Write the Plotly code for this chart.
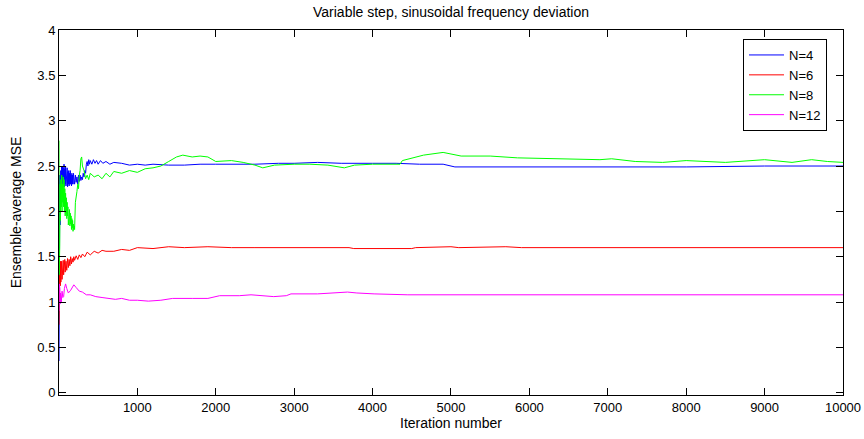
import plotly.graph_objects as go

# ---- data (iteration number, ensemble-average MSE) ----
iters_n4 = [1, 3, 5, 8, 10, 12, 15, 18, 20, 23, 25, 28, 30, 33, 35, 38, 40, 45, 50, 55, 60, 65,
            70, 75, 80, 85, 90, 95, 100, 105, 110, 115, 120, 125, 130, 135, 140, 145, 150, 155,
            160, 165, 170, 175, 180, 185, 190, 195, 200, 210, 220, 230, 240, 250, 260, 270, 280,
            290, 300, 310, 320, 330, 340, 350, 360, 370, 380, 390, 400, 420, 440, 460, 480, 500,
            530, 560, 600, 650, 700, 800, 900, 1000, 1100, 1200, 1400, 1600, 1800, 2000, 2200,
            2500, 2800, 3000, 3300, 3600, 4000, 4300, 4600, 4900, 5050, 6000, 7000, 8000, 9000, 10000]
mse_n4 = [0.35, 2.35, 1.8, 2.3, 2.0, 2.4, 1.85, 2.3, 2.1, 2.45, 2.2, 2.4, 2.25, 2.5, 2.3, 2.45,
          2.25, 2.5, 2.28, 2.48, 2.3, 2.52, 2.27, 2.47, 2.3, 2.5, 2.28, 2.45, 2.3, 2.48, 2.27,
          2.44, 2.3, 2.45, 2.28, 2.42, 2.3, 2.45, 2.3, 2.4, 2.28, 2.42, 2.3, 2.4, 2.3, 2.42, 2.32,
          2.4, 2.3, 2.4, 2.32, 2.38, 2.3, 2.4, 2.33, 2.4, 2.34, 2.38, 2.35, 2.42, 2.38, 2.45, 2.42,
          2.52, 2.55, 2.5, 2.57, 2.52, 2.56, 2.52, 2.57, 2.53, 2.56, 2.52, 2.56, 2.53, 2.55, 2.52,
          2.54, 2.53, 2.51, 2.52, 2.51, 2.52, 2.51, 2.51, 2.52, 2.52, 2.52, 2.52, 2.53, 2.53,
          2.54, 2.53, 2.53, 2.53, 2.52, 2.52, 2.49, 2.49, 2.49, 2.49, 2.5, 2.5]

iters_n6 = [1, 2, 4, 6, 8, 10, 13, 16, 19, 22, 25, 28, 31, 35, 40, 45, 50, 55, 60, 65, 70, 75,
            80, 90, 100, 110, 120, 130, 140, 150, 160, 170, 180, 190, 200, 220, 240, 260, 280,
            300, 330, 360, 400, 450, 500, 550, 600, 700, 800, 900, 1000, 1200, 1400, 1600, 1900,
            2200, 2500, 3000, 3700, 3760, 4500, 4550, 5000, 5100, 5700, 5900, 7000, 8000, 9000, 10000]
mse_n6 = [0.75, 1.45, 1.1, 1.4, 1.15, 1.45, 1.2, 1.42, 1.18, 1.45, 1.22, 1.4, 1.25, 1.45, 1.25,
          1.42, 1.28, 1.46, 1.3, 1.45, 1.32, 1.47, 1.33, 1.45, 1.35, 1.48, 1.38, 1.47, 1.4, 1.5,
          1.42, 1.48, 1.44, 1.5, 1.46, 1.51, 1.47, 1.52, 1.49, 1.53, 1.5, 1.55, 1.52, 1.56, 1.54,
          1.57, 1.56, 1.56, 1.58, 1.57, 1.6, 1.59, 1.61, 1.6, 1.61, 1.6, 1.6, 1.6, 1.6, 1.59, 1.59,
          1.6, 1.61, 1.6, 1.61, 1.6, 1.6, 1.6, 1.6, 1.6]

iters_n8 = [1, 3, 6, 10, 15, 20, 25, 30, 35, 40, 45, 50, 55, 60, 65, 70, 75, 80, 85, 90, 95, 100,
            105, 110, 115, 120, 125, 130, 135, 140, 145, 150, 155, 160, 165, 170, 175, 180, 185,
            190, 195, 200, 210, 220, 230, 240, 250, 260, 270, 280, 290, 300, 320, 340, 360, 380,
            400, 450, 500, 550, 600, 650, 700, 800, 900, 1000, 1100, 1200, 1300, 1400, 1500,
            1580, 1700, 1800, 1900, 2000, 2200, 2350, 2500, 2600, 2750, 3000, 3200, 3430, 3640,
            3770, 4000, 4350, 4380, 4650, 4900, 5130, 5500, 5850, 6300, 6900, 7050, 7350, 7700,
            8000, 8500, 9000, 9350, 9600, 9800, 10000]
mse_n8 = [2.78, 1.3, 2.5, 1.6, 2.3, 1.9, 2.35, 2.05, 2.4, 2.0, 2.3, 2.1, 2.38, 2.05, 2.35, 2.0,
          2.25, 1.95, 2.2, 1.98, 2.15, 1.92, 2.1, 1.95, 2.05, 1.85, 2.0, 1.88, 2.02, 1.84, 1.98,
          1.86, 1.95, 1.8, 1.92, 1.82, 1.9, 1.78, 1.86, 1.8, 1.84, 1.8, 2.1, 2.15, 2.22, 2.3,
          2.25, 2.4, 2.45, 2.58, 2.6, 2.5, 2.45, 2.36, 2.4, 2.35, 2.42, 2.38, 2.4, 2.36, 2.42,
          2.38, 2.44, 2.42, 2.45, 2.43, 2.47, 2.48, 2.5, 2.55, 2.6, 2.62, 2.6, 2.61, 2.6, 2.55,
          2.56, 2.54, 2.51, 2.48, 2.51, 2.52, 2.52, 2.51, 2.48, 2.51, 2.52, 2.52, 2.56, 2.62,
          2.65, 2.61, 2.61, 2.59, 2.58, 2.57, 2.58, 2.55, 2.54, 2.56, 2.54, 2.57, 2.54, 2.57,
          2.55, 2.54]

iters_n12 = [1, 4, 8, 12, 16, 20, 30, 40, 50, 60, 70, 85, 100, 120, 150, 190, 220, 260, 300, 350,
             400, 470, 550, 650, 720, 800, 900, 1000, 1140, 1300, 1450, 1700, 1900, 2050, 2300,
             2450, 2740, 2900, 2960, 3300, 3680, 3800, 4020, 4450, 5000, 6000, 7000, 8000, 9000, 10000]
mse_n12 = [0.9, 1.2, 0.95, 1.15, 0.98, 1.1, 1.0, 1.12, 1.05, 1.06, 1.15, 1.2, 1.15, 1.1, 1.13,
           1.19, 1.16, 1.12, 1.11, 1.08, 1.08, 1.06, 1.05, 1.04, 1.03, 1.04, 1.02, 1.02, 1.01,
           1.02, 1.04, 1.04, 1.04, 1.07, 1.07, 1.08, 1.06, 1.07, 1.09, 1.09, 1.11, 1.1, 1.09,
           1.08, 1.08, 1.08, 1.08, 1.08, 1.08, 1.08]

series_names = ["N=4", "N=6", "N=8", "N=12"]
series_colors = ["#0000ff", "#ff0000", "#00ff00", "#ff00ff"]
x_ticks = [1000, 2000, 3000, 4000, 5000, 6000, 7000, 8000, 9000, 10000]
x_tick_labels = ["1000", "2000", "3000", "4000", "5000", "6000", "7000", "8000", "9000", "10000"]
y_ticks = [0, 0.5, 1, 1.5, 2, 2.5, 3, 3.5, 4]
y_tick_labels = ["0", "0.5", "1", "1.5", "2", "2.5", "3", "3.5", "4"]

FONT = "Liberation Sans, Arial, sans-serif"

fig = go.Figure()
for xs, ys, name, col in zip([iters_n4, iters_n6, iters_n8, iters_n12],
                             [mse_n4, mse_n6, mse_n8, mse_n12],
                             series_names, series_colors):
    fig.add_trace(go.Scatter(x=xs, y=ys, mode="lines", name=name,
                             line=dict(color=col, width=1)))

fig.update_layout(
    width=864, height=439,
    margin=dict(l=59, r=21, t=30, b=44, pad=0),
    paper_bgcolor="white", plot_bgcolor="white",
    font=dict(family=FONT, size=13, color="black"),
    title=dict(text="Variable step, sinusoidal frequency deviation",
               x=0.5, xref="paper", xanchor="center",
               y=1 - 12 / 439, yref="container", yanchor="middle",
               font=dict(family=FONT, size=14, color="black")),
    showlegend=True,
    legend=dict(x=(743 - 59) / 784, y=(395 - 39) / 365, xanchor="left", yanchor="top",
                bgcolor="white", bordercolor="black", borderwidth=1,
                font=dict(family=FONT, size=13, color="black"),
                itemwidth=35, tracegroupgap=0),
)

fig.update_xaxes(range=[1, 10000], tickvals=x_ticks, ticktext=x_tick_labels,
                 ticks="inside", ticklen=7, automargin=False,
                 tickcolor="black", showline=True, linecolor="black", linewidth=1,
                 mirror="allticks", showgrid=False, zeroline=False,
                 title=dict(text="Iteration number", standoff=4,
                            font=dict(family=FONT, size=14, color="black")),
                 tickfont=dict(family=FONT, size=13, color="black"))
fig.update_yaxes(range=[-0.025, 4], tickvals=y_ticks, ticktext=y_tick_labels,
                 ticks="inside", ticklen=7, tickcolor="black", automargin=False,
                 showline=True, linecolor="black", linewidth=1,
                 mirror="allticks", showgrid=False, zeroline=False,
                 title=dict(text="Ensemble-average MSE", standoff=12,
                            font=dict(family=FONT, size=14, color="black")),
                 tickfont=dict(family=FONT, size=13, color="black"))

fig.write_html("out.html",
               config={"displayModeBar": False},
               post_script="document.body.style.margin='0';document.body.style.overflow='hidden';")
